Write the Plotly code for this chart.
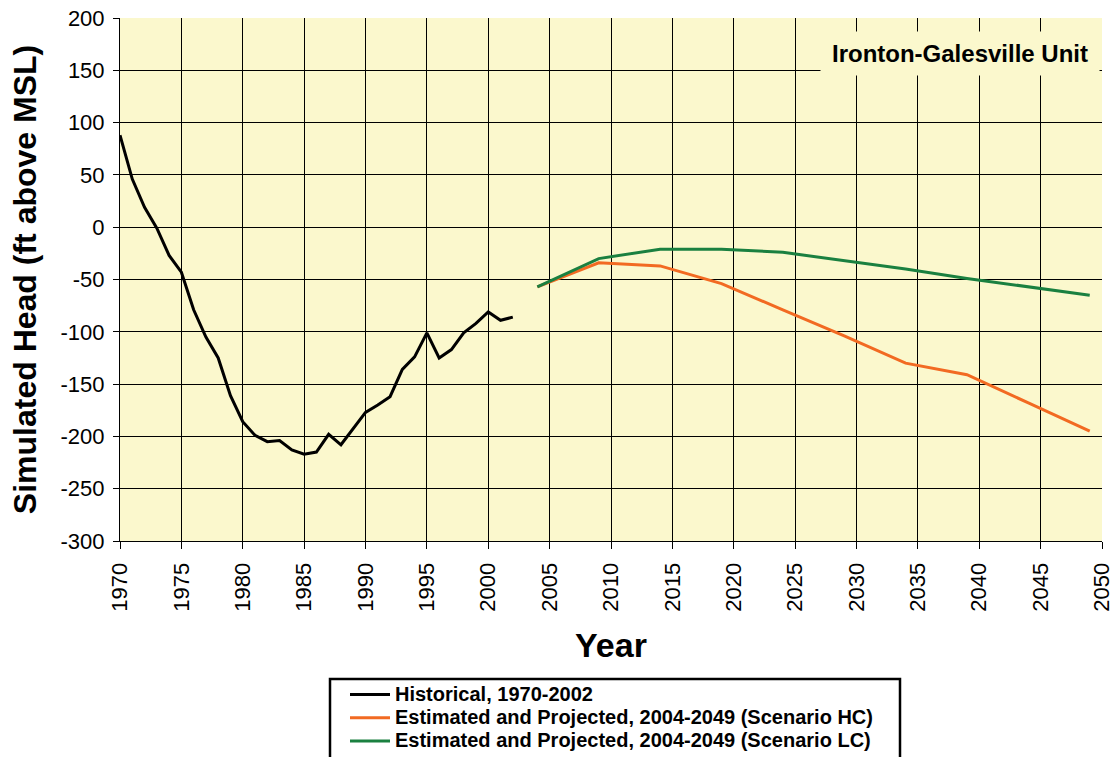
import plotly.graph_objects as go

# Historical simulated head, 1970-2002 (ft above MSL)
hist_years = list(range(1970, 2003))
hist_head = [88, 46, 19, -1, -27, -43, -79, -105, -125, -161, -186, -199, -205, -204,
             -213, -217, -215, -198, -208, -192, -177, -170, -162, -136, -124, -101,
             -125, -117, -101, -92, -81, -89, -86]

# Estimated and projected heads, 2004-2049
proj_years = [2004, 2009, 2014, 2019, 2024, 2029, 2034, 2039, 2044, 2049]
hc_head = [-57, -34, -37, -54, -79, -104, -130, -141, -168, -195]
lc_head = [-57, -30, -21, -21, -24, -32, -40, -49, -57, -65]

x_ticks = list(range(1970, 2051, 5))
y_ticks = list(range(-300, 201, 50))

FONT = "Liberation Sans, Arial, sans-serif"
BG = "#FBF8CD"

# plot area in pixels: left 120, right 1102, top 18, bottom 541
PL, PR, PT, PB = 120, 1102, 18, 541


def px_x(x):
    return (x - PL) / (PR - PL)


def px_y(y):
    return (PB - y) / (PB - PT)


def legend_label(text):
    # larger glyphs on a compact legend row
    return f"<span style='font-size:20px'>{text}</span>"


fig = go.Figure()
fig.add_trace(go.Scatter(x=hist_years, y=hist_head, mode="lines",
                         name=legend_label("Historical, 1970-2002"),
                         line=dict(color="#000000", width=3)))
fig.add_trace(go.Scatter(x=proj_years, y=hc_head, mode="lines",
                         name=legend_label("Estimated and Projected, 2004-2049 (Scenario HC)"),
                         line=dict(color="#F26A22", width=3)))
fig.add_trace(go.Scatter(x=proj_years, y=lc_head, mode="lines",
                         name=legend_label("Estimated and Projected, 2004-2049 (Scenario LC)"),
                         line=dict(color="#1A8040", width=3)))

fig.update_layout(
    width=1120, height=757,
    margin=dict(l=PL, r=1120 - PR, t=PT, b=757 - PB, autoexpand=False),
    paper_bgcolor="white",
    plot_bgcolor=BG,
    font=dict(family=FONT, color="black"),
    showlegend=True,
    legend=dict(
        x=px_x(345), y=px_y(678), xanchor="left", yanchor="top",
        borderwidth=0, bgcolor="rgba(0,0,0,0)",
        font=dict(family=FONT, size=15.5, color="black", weight="bold"),
        tracegroupgap=0, itemwidth=40,
    ),
    xaxis=dict(
        range=[1970, 2050], tickvals=x_ticks, ticktext=[str(v) for v in x_ticks],
        tickangle=-90, tickfont=dict(size=22),
        ticks="outside", ticklen=7, tickcolor="black", ticklabelstandoff=5,
        showgrid=True, gridcolor="black", gridwidth=1,
        showline=True, linecolor="black", linewidth=1, mirror=False,
        zeroline=False, automargin=False,
        title=dict(text="Year", font=dict(size=34, weight="bold"), standoff=22),
    ),
    yaxis=dict(
        range=[-300, 200], tickvals=y_ticks, ticktext=[str(v) for v in y_ticks],
        tickfont=dict(size=22),
        ticks="outside", ticklen=6, tickcolor="black", ticklabelstandoff=4,
        showgrid=True, gridcolor="black", gridwidth=1,
        showline=True, linecolor="black", linewidth=1,
        zeroline=False, automargin=False,
        title=dict(text="Simulated Head (ft above MSL)",
                   font=dict(size=32, weight="bold"), standoff=14),
    ),
    shapes=[dict(
        type="rect", xref="paper", yref="paper",
        x0=px_x(330), x1=px_x(900), y0=px_y(770), y1=px_y(679),
        line=dict(color="black", width=2.5), fillcolor="rgba(0,0,0,0)",
    )],
    annotations=[dict(
        text="<b>Ironton-Galesville Unit</b>",
        xref="paper", yref="paper", x=px_x(960), y=px_y(53.5),
        xanchor="center", yanchor="middle",
        showarrow=False, font=dict(family=FONT, size=24, color="black"),
        bgcolor=BG, borderpad=8, width=262,
    )],
)

fig.write_html("out.html")
